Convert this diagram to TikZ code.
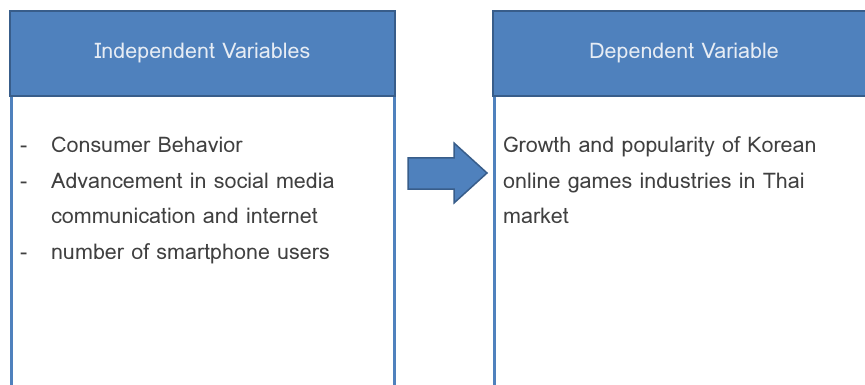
\documentclass[tikz,border=0pt]{standalone}
\usepackage{fontspec}
\setmainfont{Loma}
\definecolor{boxblue}{HTML}{4F81BD}
\definecolor{boxedge}{HTML}{385D8A}
\definecolor{bodytext}{HTML}{404040}
\definecolor{headtext}{HTML}{E6ECF4}
\begin{document}
\begin{tikzpicture}[x=1pt,y=-1pt,
  header/.style={draw=boxedge, line width=2.2pt, fill=boxblue},
  headlabel/.style={anchor=base, inner sep=0pt, text=headtext,
    font=\fontsize{21.5}{24}\selectfont},
  panel/.style={draw=boxblue, line width=3pt},
  item/.style={anchor=base west, inner sep=0pt, text=bodytext,
    font=\fontsize{21.5}{24}\selectfont},
  blockarrow/.style={draw=boxedge, line width=1.5pt, fill=boxblue, line join=miter}]
\useasboundingbox (0,0) rectangle (865,385);
\clip (0,0) rectangle (865,385);
\fill[white] (0,0) rectangle (865,385);

% left panel: independent variables
\draw[panel] (11,96) -- (11,400) (394,96) -- (394,400);
\draw[header] (10,11) rectangle (395,96);
\node[headlabel] (lhead) at (202.5,59) {Independent Variables};

% right panel: dependent variable
\draw[panel] (494,96) -- (494,400) (874,96) -- (874,400);
\draw[header] (493,11) rectangle (875,96);
\node[headlabel] (rhead) at (684,59) {Dependent Variable};

% list of independent variables
\node[item] (d1) at (20,153) {-};
\node[item] (t1) at (51,153) {Consumer Behavior};
\node[item] (d2) at (20,188) {-};
\node[item] (t2) at (51,188) {Advancement in social media};
\node[item] (t3) at (51,223) {communication and internet};
\node[item] (d4) at (20,259) {-};
\node[item] (t4) at (51,259) {number of smartphone users};

% dependent variable description
\node[item] (r1) at (503,153) {Growth and popularity of Korean};
\node[item] (r2) at (503,188) {online games industries in Thai};
\node[item] (r3) at (503,223) {market};

% block arrow between the panels
\coordinate (atail) at (408,158);
\draw[blockarrow] (atail) -- (454,158) -- (454,143) -- (487,173) -- (454,203)
  -- (454,189) -- (408,189) -- cycle;
\end{tikzpicture}
\end{document}
